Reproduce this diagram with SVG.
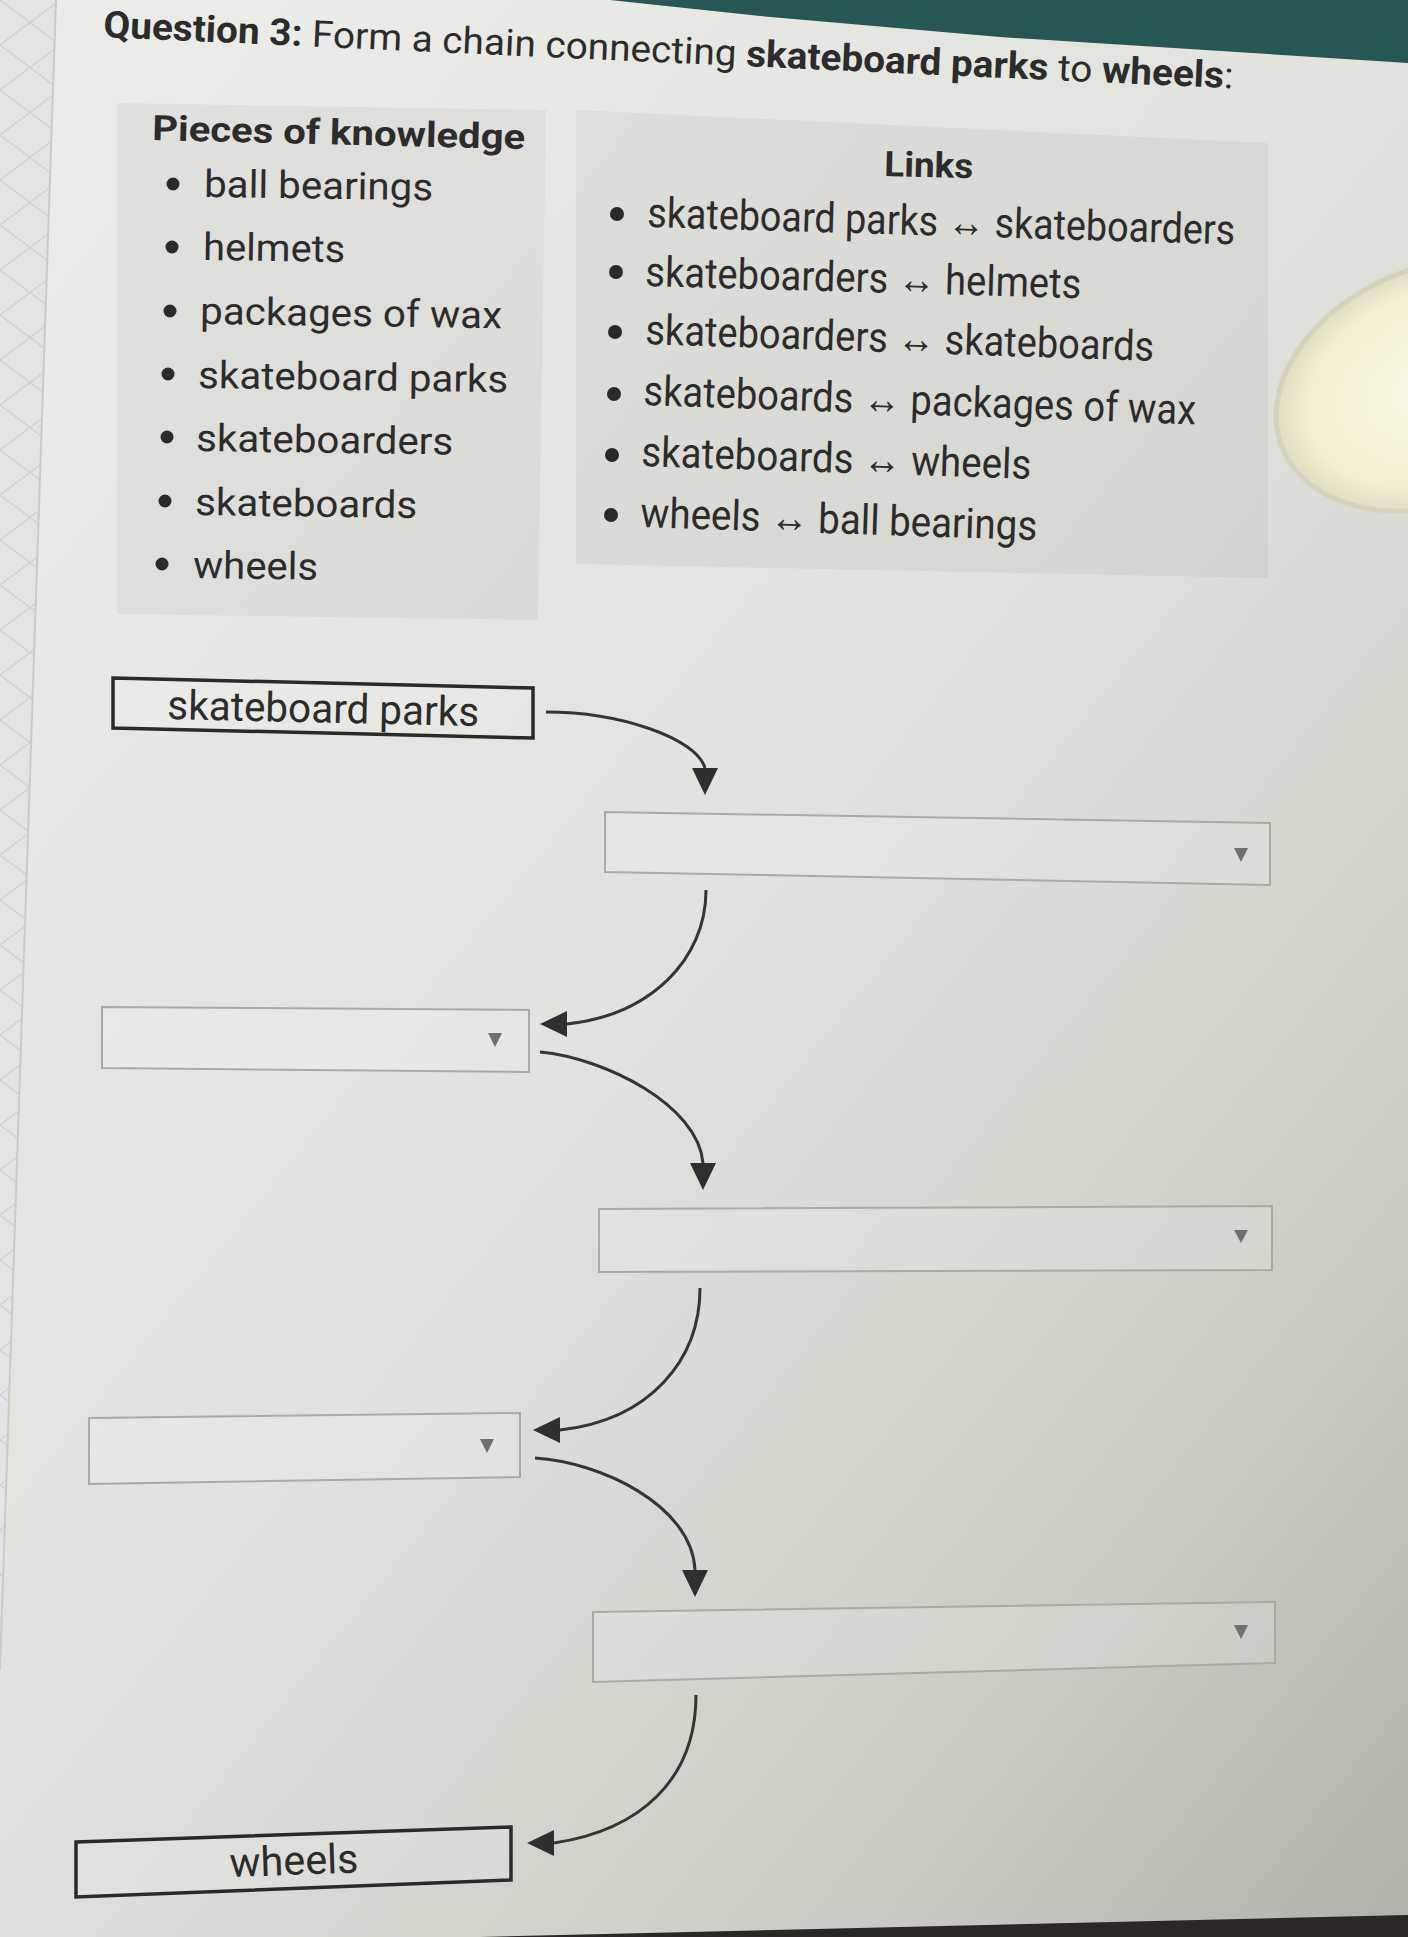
<svg xmlns="http://www.w3.org/2000/svg" width="1408" height="1937" viewBox="0 0 1408 1937">
<defs>
<linearGradient id="bg" x1="0.15" y1="0.05" x2="1" y2="1">
<stop offset="0" stop-color="#ebebe7"/>
<stop offset="0.45" stop-color="#e1e2dc"/>
<stop offset="0.8" stop-color="#c9cbc2"/>
<stop offset="1" stop-color="#b0b2a9"/>
</linearGradient>
<radialGradient id="glare" cx="0.5" cy="0.5" r="0.5">
<stop offset="0" stop-color="#faf8e6"/>
<stop offset="0.8" stop-color="#f2efd2"/>
<stop offset="1" stop-color="#e0ddc4"/>
</radialGradient>
<pattern id="zig" width="60" height="90" patternUnits="userSpaceOnUse">
<path d="M0,0 L60,45 L0,90 M60,0 L0,45 L60,90" fill="none" stroke="#cdd1d0" stroke-width="1.3"/>
</pattern>
<marker id="ahDown" markerUnits="userSpaceOnUse" viewBox="0 0 27 26" markerWidth="27" markerHeight="26" refX="0" refY="13" orient="90">
<path d="M0,0 L27,13 L0,26 z" fill="#2f2f2f"/>
</marker>
<marker id="ahLeft" markerUnits="userSpaceOnUse" viewBox="0 0 27 26" markerWidth="27" markerHeight="26" refX="0" refY="13" orient="180">
<path d="M0,0 L27,13 L0,26 z" fill="#2f2f2f"/>
</marker>
</defs>
<style>
text { font-family: Roboto, "Liberation Sans", sans-serif; fill: #2c2c2c; }
.b { font-weight: bold; }
.h { font-size: 35px; font-weight: bold; }
.item { font-size: 38px; }
.link { font-size: 42px; }
.bul { fill: #2a2a2a; }
.panel { fill: #000; fill-opacity: 0.045; }
.fixed { fill: #ffffff; fill-opacity: 0.12; stroke: #2a2a2a; stroke-width: 3.5; }
.dd { fill: #ffffff; fill-opacity: 0.15; stroke: #a9aaa2; stroke-width: 2; }
.tri { fill: #707070; }
.conn { fill: none; stroke: #353535; stroke-width: 3; }
.node-text { font-size: 41px; }
</style>

<!-- background scene -->
<rect x="0" y="0" width="1408" height="1937" fill="url(#bg)"/>
<polygon points="0,0 56,0 0,1670" fill="#e2e5e4"/>
<polygon points="0,0 56,0 0,1670" fill="url(#zig)"/>
<line x1="56" y1="0" x2="0" y2="1670" stroke="#c9ccca" stroke-width="2"/>
<polygon points="610,0 1408,0 1408,63 1000,37 760,16" fill="#275754"/>
<ellipse cx="1438" cy="385" rx="168" ry="118" transform="rotate(-22 1438 385)" fill="url(#glare)" stroke="#d6d3bd" stroke-width="5"/>
<polygon points="480,1937 1408,1915 1408,1937" fill="#2a2724"/>

<!-- title -->
<text x="103" y="37" font-size="37" textLength="1131" lengthAdjust="spacingAndGlyphs" transform="rotate(2.6 103 37)"><tspan class="b">Question 3:</tspan> Form a chain connecting <tspan class="b">skateboard parks</tspan> to <tspan class="b">wheels</tspan>:</text>

<!-- pieces of knowledge panel -->
<g id="knowledge">
<polygon class="panel" points="117,103 546,110 538,620 117,614"/>
<text class="h" x="152" y="140" textLength="373" lengthAdjust="spacingAndGlyphs" transform="rotate(1.4 152 140)">Pieces of knowledge</text>
<circle class="bul" cx="173" cy="184" r="6.5"/>
<text class="item" x="204" y="197" textLength="229" lengthAdjust="spacingAndGlyphs" transform="rotate(0.8 204 197)">ball bearings</text>
<circle class="bul" cx="172" cy="247" r="6.5"/>
<text class="item" x="203" y="260" textLength="142" lengthAdjust="spacingAndGlyphs" transform="rotate(0.8 203 260)">helmets</text>
<circle class="bul" cx="170" cy="311" r="6.5"/>
<text class="item" x="200" y="324" textLength="302" lengthAdjust="spacingAndGlyphs" transform="rotate(0.8 200 324)">packages of wax</text>
<circle class="bul" cx="168" cy="374" r="6.5"/>
<text class="item" x="198" y="388" textLength="310" lengthAdjust="spacingAndGlyphs" transform="rotate(0.8 198 388)">skateboard parks</text>
<circle class="bul" cx="167" cy="437" r="6.5"/>
<text class="item" x="196" y="451" textLength="257" lengthAdjust="spacingAndGlyphs" transform="rotate(0.8 196 451)">skateboarders</text>
<circle class="bul" cx="165" cy="501" r="6.5"/>
<text class="item" x="195" y="515" textLength="222" lengthAdjust="spacingAndGlyphs" transform="rotate(0.8 195 515)">skateboards</text>
<circle class="bul" cx="162" cy="564" r="6.5"/>
<text class="item" x="193" y="578" textLength="125" lengthAdjust="spacingAndGlyphs" transform="rotate(0.8 193 578)">wheels</text>
</g>

<!-- links panel -->
<g id="links">
<polygon class="panel" points="576,110 1268,143 1268,578 576,564"/>
<text class="h" x="884" y="176" textLength="89" lengthAdjust="spacingAndGlyphs" transform="rotate(1.5 884 176)">Links</text>
<circle class="bul" cx="617" cy="214" r="7"/>
<text class="link" x="647" y="227" textLength="588" lengthAdjust="spacingAndGlyphs" transform="rotate(1.7 647 227)">skateboard parks ↔ skateboarders</text>
<circle class="bul" cx="616" cy="272" r="7"/>
<text class="link" x="645" y="286" textLength="436" lengthAdjust="spacingAndGlyphs" transform="rotate(1.6 645 286)">skateboarders ↔ helmets</text>
<circle class="bul" cx="615" cy="332" r="7"/>
<text class="link" x="645" y="344" textLength="509" lengthAdjust="spacingAndGlyphs" transform="rotate(1.9 645 344)">skateboarders ↔ skateboards</text>
<circle class="bul" cx="614" cy="394" r="7"/>
<text class="link" x="643" y="405" textLength="553" lengthAdjust="spacingAndGlyphs" transform="rotate(2 643 405)">skateboards ↔ packages of wax</text>
<circle class="bul" cx="612" cy="455" r="7"/>
<text class="link" x="641" y="466" textLength="390" lengthAdjust="spacingAndGlyphs" transform="rotate(1.9 641 466)">skateboards ↔ wheels</text>
<circle class="bul" cx="611" cy="515" r="7"/>
<text class="link" x="640" y="527" textLength="397" lengthAdjust="spacingAndGlyphs" transform="rotate(1.9 640 527)">wheels ↔ ball bearings</text>
</g>

<!-- chain nodes -->
<g id="node-start">
<polygon class="fixed" points="113,678 533,688 533,738 113,728"/>
<text class="node-text" x="167" y="719" textLength="312" lengthAdjust="spacingAndGlyphs" transform="rotate(1.3 167 719)">skateboard parks</text>
</g>
<g id="node-dd1">
<polygon class="dd" points="605,812 1270,823 1270,885 605,872"/>
<polygon class="tri" points="1234,848 1248,848 1241,862"/>
</g>
<g id="node-dd2">
<polygon class="dd" points="102,1007 529,1010 529,1072 102,1068"/>
<polygon class="tri" points="488,1033 502,1033 495,1047"/>
</g>
<g id="node-dd3">
<polygon class="dd" points="599,1209 1272,1206 1272,1270 599,1272"/>
<polygon class="tri" points="1234,1230 1248,1230 1241,1243"/>
</g>
<g id="node-dd4">
<polygon class="dd" points="89,1418 520,1413 520,1477 89,1484"/>
<polygon class="tri" points="480,1439 494,1439 487,1453"/>
</g>
<g id="node-dd5">
<polygon class="dd" points="593,1612 1275,1602 1275,1663 593,1682"/>
<polygon class="tri" points="1234,1625 1248,1625 1241,1639"/>
</g>
<g id="node-end">
<polygon class="fixed" points="76,1842 511,1827 511,1880 76,1897"/>
<text class="node-text" x="230" y="1877" textLength="129" lengthAdjust="spacingAndGlyphs" transform="rotate(-2 230 1877)">wheels</text>
</g>

<!-- connectors -->
<g id="connectors">
<path class="conn" d="M546,712 C620,712 696,738 705,768" marker-end="url(#ahDown)"/>
<path class="conn" d="M706,890 C706,960 650,1015 567,1024" marker-end="url(#ahLeft)"/>
<path class="conn" d="M540,1052 C605,1058 698,1105 703,1163" marker-end="url(#ahDown)"/>
<path class="conn" d="M700,1288 C700,1360 650,1420 560,1430" marker-end="url(#ahLeft)"/>
<path class="conn" d="M535,1458 C600,1462 692,1505 695,1570" marker-end="url(#ahDown)"/>
<path class="conn" d="M696,1695 C696,1780 640,1830 554,1843" marker-end="url(#ahLeft)"/>
</g>
</svg>
